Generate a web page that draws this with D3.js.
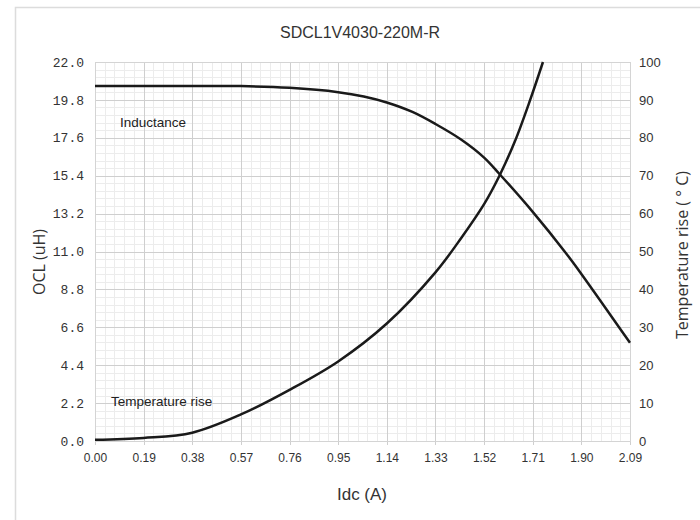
<!DOCTYPE html>
<html><head><meta charset="utf-8">
<script src="https://cdn.jsdelivr.net/npm/d3@7"></script>
<style>body{margin:0;background:#fff}svg{display:block}</style>
</head><body>
<svg id="c" width="700" height="520"></svg>
<script>
const title = "SDCL1V4030-220M-R";
const xTicks = [0, 0.19, 0.38, 0.57, 0.76, 0.95, 1.14, 1.33, 1.52, 1.71, 1.90, 2.09];
const leftTicks = [0, 2.2, 4.4, 6.6, 8.8, 11.0, 13.2, 15.4, 17.6, 19.8, 22.0];
const rightTicks = [0, 10, 20, 30, 40, 50, 60, 70, 80, 90, 100];
const indX = [0, 0.19, 0.38, 0.57, 0.76, 0.95, 1.05, 1.14, 1.24, 1.33, 1.43, 1.52, 1.58, 1.71, 1.84, 1.90, 2.09];
const indL = [20.6, 20.6, 20.6, 20.6, 20.5, 20.25, 20.0, 19.65, 19.1, 18.4, 17.5, 16.45, 15.5, 13.3, 10.9, 9.7, 5.7];
const tempX = [0, 0.19, 0.38, 0.57, 0.76, 0.95, 1.14, 1.33, 1.43, 1.52, 1.58, 1.64, 1.70, 1.75];
const tempT = [0.3, 0.8, 2.2, 7, 13.5, 21, 31, 44.5, 53.5, 62.5, 70, 79, 90, 100];

const svg = d3.select("#c");
const m = {l: 95, r: 630, t: 62, b: 441};
const x = d3.scaleLinear().domain([0, 2.09]).range([m.l, m.r]);
const yL = d3.scaleLinear().domain([0, 22]).range([m.b, m.t]);
const yR = d3.scaleLinear().domain([0, 100]).range([m.b, m.t]);

// outer frame
svg.append("rect").attr("x", 15.5).attr("y", 7.5).attr("width", 700).attr("height", 520)
  .attr("fill", "none").attr("stroke", "#dcdcdc").attr("stroke-width", 1.5);

const g = svg.append("g");
// minor grid
const minorX = d3.range(0, 55).map(i => i * 2.09 / 55);
const minorY = d3.range(0, 50).map(i => i * 22 / 50);
g.selectAll(".mx").data(minorX).join("line")
  .attr("x1", d => Math.round(x(d)) + 0.5).attr("x2", d => Math.round(x(d)) + 0.5)
  .attr("y1", m.t).attr("y2", m.b).attr("stroke", "#ececec");
g.selectAll(".my").data(minorY).join("line")
  .attr("y1", d => Math.round(yL(d)) + 0.5).attr("y2", d => Math.round(yL(d)) + 0.5)
  .attr("x1", m.l).attr("x2", m.r).attr("stroke", "#ececec");
// major grid
g.selectAll(".Mx").data(xTicks).join("line")
  .attr("x1", d => Math.round(x(d)) + 0.5).attr("x2", d => Math.round(x(d)) + 0.5)
  .attr("y1", m.t).attr("y2", m.b + 4).attr("stroke", "#cfcfcf");
g.selectAll(".My").data(leftTicks).join("line")
  .attr("y1", d => Math.round(yL(d)) + 0.5).attr("y2", d => Math.round(yL(d)) + 0.5)
  .attr("x1", m.l).attr("x2", m.r).attr("stroke", "#cfcfcf");
g.append("rect").attr("x", m.l + 0.5).attr("y", m.t + 0.5).attr("width", m.r - m.l).attr("height", m.b - m.t)
  .attr("fill", "none").attr("stroke", "#d4d4d4");

const sans = "'Liberation Sans',sans-serif";
// axes via d3
const axB = d3.axisBottom(x).tickValues(xTicks).tickFormat(d3.format(".2f")).tickSize(0).tickPadding(12);
svg.append("g").attr("transform", `translate(0,${m.b})`).call(axB)
  .call(s => s.select(".domain").remove())
  .selectAll("text").attr("font-family", sans)
  .attr("font-size", 12).attr("fill", "#333");
const axL = d3.axisLeft(yL).tickValues(leftTicks).tickFormat(d3.format(".1f")).tickSize(0).tickPadding(11);
svg.append("g").attr("transform", `translate(${m.l},0)`).call(axL)
  .call(s => s.select(".domain").remove())
  .selectAll("text").attr("font-family", "'Liberation Mono','DejaVu Sans Mono',monospace")
  .attr("font-size", 13).attr("fill", "#333");
const axR = d3.axisRight(yR).tickValues(rightTicks).tickFormat(d3.format("d")).tickSize(0).tickPadding(9);
svg.append("g").attr("transform", `translate(${m.r},0)`).call(axR)
  .call(s => s.select(".domain").remove())
  .selectAll("text").attr("font-family", sans)
  .attr("font-size", 13).attr("fill", "#333");

// curves
svg.append("clipPath").attr("id", "pc").append("rect")
  .attr("x", m.l).attr("y", m.t - 1).attr("width", m.r - m.l + 1).attr("height", m.b - m.t + 2);
const lineL = d3.line().x((d, i) => x(indX[i])).y(d => yL(d)).curve(d3.curveCatmullRom.alpha(0.5));
const lineT = d3.line().x((d, i) => x(tempX[i])).y(d => yR(d)).curve(d3.curveCatmullRom.alpha(0.5));
svg.append("path").attr("d", lineL(indL)).attr("fill", "none").attr("stroke", "#1a1a1a")
  .attr("stroke-width", 2.5).attr("clip-path", "url(#pc)");
svg.append("path").attr("d", lineT(tempT)).attr("fill", "none").attr("stroke", "#1a1a1a")
  .attr("stroke-width", 2.5).attr("clip-path", "url(#pc)");

// texts
svg.append("text").attr("x", 360).attr("y", 38).attr("text-anchor", "middle")
  .attr("font-family", sans).attr("font-size", 16).attr("fill", "#333").text(title);
svg.append("text").attr("x", 362).attr("y", 500).attr("text-anchor", "middle")
  .attr("font-family", sans).attr("font-size", 17).attr("fill", "#333").text("Idc (A)");
svg.append("text").attr("transform", "translate(45,262) rotate(-90)").attr("text-anchor", "middle")
  .attr("font-family", "'Open Sans',sans-serif").attr("font-size", 16).attr("fill", "#333").text("OCL (uH)");
svg.append("text").attr("transform", "translate(688,255) rotate(-90)").attr("text-anchor", "middle")
  .attr("font-family", "'Open Sans',sans-serif").attr("font-size", 16).attr("fill", "#333").text("Temperature rise ( ° C)");
svg.append("text").attr("x", 120).attr("y", 127)
  .attr("font-family", sans).attr("font-size", 13.5).attr("fill", "#222").text("Inductance");
svg.append("text").attr("x", 111).attr("y", 406)
  .attr("font-family", sans).attr("font-size", 13.5).attr("fill", "#222").text("Temperature rise");
</script>
</body></html>
